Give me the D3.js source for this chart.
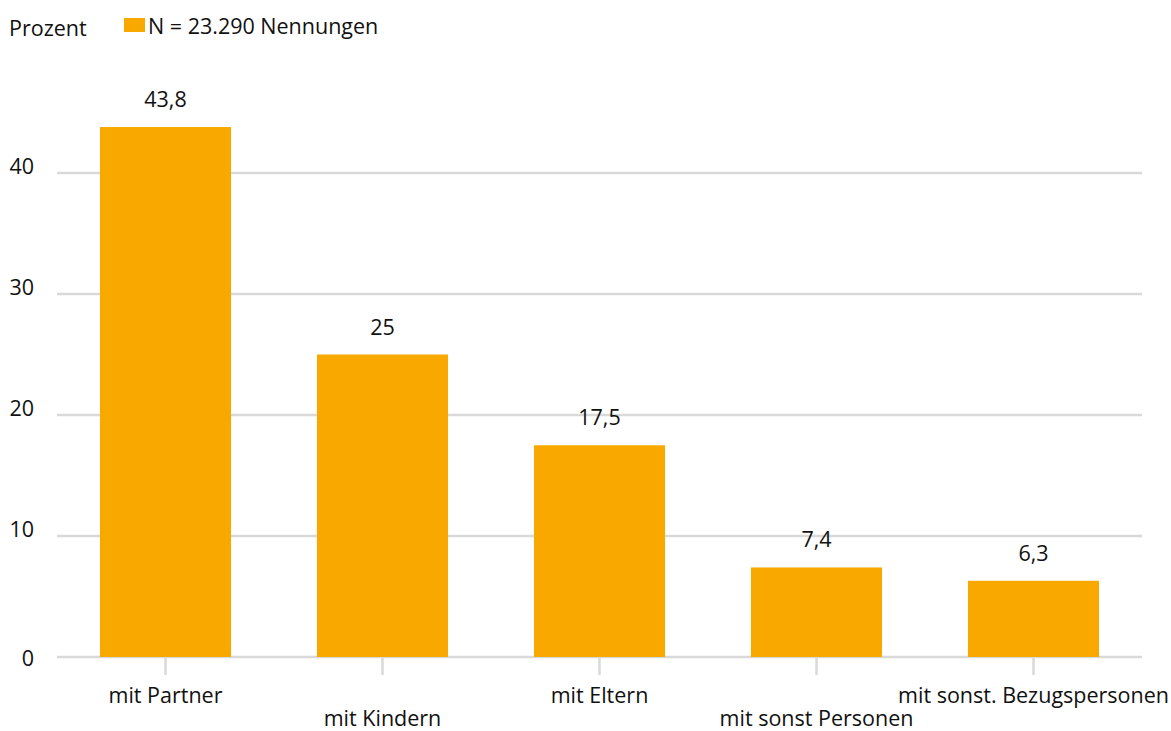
<!DOCTYPE html>
<html>
<head>
<meta charset="utf-8">
<script src="https://cdn.jsdelivr.net/npm/d3@7"></script>
<style>
  html, body { margin: 0; padding: 0; background: #fff; }
  svg { display: block; font-family: "Open Sans", "Noto Sans", sans-serif; }
</style>
</head>
<body>
<svg id="chart" width="1171" height="731"></svg>
<script>
// Anteile der Nennungen nach Wohnform (Prozent)
const categories = ["mit Partner", "mit Kindern", "mit Eltern", "mit sonst Personen", "mit sonst. Bezugspersonen"];
const values = [43.8, 25, 17.5, 7.4, 6.3];
const valueLabels = ["43,8", "25", "17,5", "7,4", "6,3"];
const yTicks = [0, 10, 20, 30, 40];
const legendLabel = "N = 23.290 Nennungen";
const axisTitle = "Prozent";

const svg = d3.select("#chart");
const barColor = "#f9a800";
const gridColor = "#d9d9d9";
const textColor = "#111";
const fontSize = 21.5;

const plot = { left: 57, right: 1142, top: 52, bottom: 657 };

const x = d3.scaleBand()
  .domain(categories)
  .range([plot.left, plot.right])
  .padding(0);

const y = d3.scaleLinear()
  .domain([0, 50])
  .range([plot.bottom, plot.top]);

const barW = x.bandwidth() * 0.604;

// horizontal gridlines
svg.append("g")
  .selectAll("line")
  .data(yTicks)
  .join("line")
  .attr("x1", plot.left)
  .attr("x2", plot.right)
  .attr("y1", d => y(d))
  .attr("y2", d => y(d))
  .attr("stroke", gridColor)
  .attr("stroke-width", 2.5);

// y tick labels: sit on their gridline; the zero label drops below the baseline axis
svg.append("g")
  .selectAll("text")
  .data(yTicks)
  .join("text")
  .attr("x", 34)
  .attr("y", d => y(d) + (d === 0 ? 9 : 1))
  .attr("text-anchor", "end")
  .attr("font-size", fontSize)
  .attr("fill", textColor)
  .text(d => d);

// bars
svg.append("g")
  .selectAll("rect")
  .data(values)
  .join("rect")
  .attr("x", (d, i) => x(categories[i]) + x.bandwidth() / 2 - barW / 2)
  .attr("y", d => y(d))
  .attr("width", barW)
  .attr("height", d => y(0) - y(d))
  .attr("fill", barColor);

// category tick marks below the axis
svg.append("g")
  .selectAll("line")
  .data(categories)
  .join("line")
  .attr("x1", d => x(d) + x.bandwidth() / 2)
  .attr("x2", d => x(d) + x.bandwidth() / 2)
  .attr("y1", plot.bottom)
  .attr("y2", plot.bottom + 18)
  .attr("stroke", gridColor)
  .attr("stroke-width", 2.5);

// value labels above bars
svg.append("g")
  .selectAll("text")
  .data(values)
  .join("text")
  .attr("x", (d, i) => x(categories[i]) + x.bandwidth() / 2)
  .attr("y", d => y(d) - 20)
  .attr("text-anchor", "middle")
  .attr("font-size", fontSize)
  .attr("fill", textColor)
  .text((d, i) => valueLabels[i]);

// category labels, staggered in two rows
svg.append("g")
  .selectAll("text")
  .data(categories)
  .join("text")
  .attr("x", d => x(d) + x.bandwidth() / 2)
  .attr("y", (d, i) => i % 2 === 0 ? 703 : 726)
  .attr("text-anchor", "middle")
  .attr("font-size", fontSize)
  .attr("fill", textColor)
  .text(d => d);

// axis title and legend
svg.append("text")
  .attr("x", 9)
  .attr("y", 35.5)
  .attr("font-size", fontSize)
  .attr("fill", textColor)
  .text(axisTitle);

svg.append("rect")
  .attr("x", 124)
  .attr("y", 18)
  .attr("width", 21)
  .attr("height", 14)
  .attr("fill", barColor);

svg.append("text")
  .attr("x", 148)
  .attr("y", 33.5)
  .attr("font-size", fontSize)
  .attr("fill", textColor)
  .text(legendLabel);
</script>
</body>
</html>
